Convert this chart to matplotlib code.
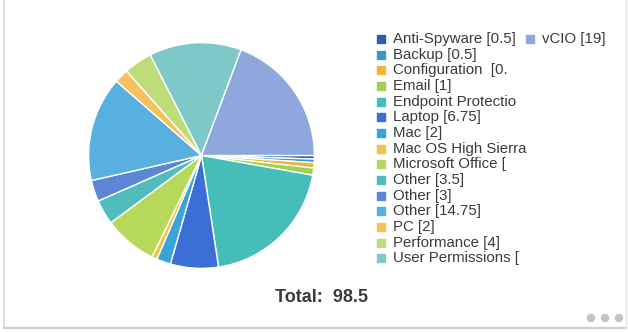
import matplotlib

matplotlib.use("Agg")
import matplotlib.pyplot as plt
from matplotlib.lines import Line2D
from matplotlib.patches import Circle, Rectangle

plt.rcParams["font.family"] = ["Liberation Sans", "DejaVu Sans"]

W, H = 628, 332

# ticket hours per category
categories = [
    "Anti-Spyware", "Backup", "Configuration", "Email", "Endpoint Protection",
    "Laptop", "Mac", "Mac OS High Sierra", "Microsoft Office", "Other",
    "Other", "Other", "PC", "Performance", "User Permissions", "vCIO",
]
hours = [0.5, 0.5, 0.75, 1, 19.5, 6.75, 2, 0.75, 7.5, 3.5, 3, 14.75, 2, 4, 13, 19]
legend_labels = [
    "Anti-Spyware [0.5]", "Backup [0.5]", "Configuration  [0.", "Email [1]",
    "Endpoint Protectio", "Laptop [6.75]", "Mac [2]", "Mac OS High Sierra",
    "Microsoft Office [", "Other [3.5]", "Other [3]", "Other [14.75]", "PC [2]",
    "Performance [4]", "User Permissions [", "vCIO [19]",
]
colors = [
    "#2f5ea8", "#3a98c2", "#f0b63c", "#a2d04c", "#45bdb8", "#3c6fd6",
    "#3aa3d8", "#f3c24c", "#b6d95c", "#4fbdbb", "#5b86d6", "#57b0e0",
    "#f5c15a", "#bedd7a", "#7ec9c7", "#8ea7dc",
]
total = sum(hours)


def fx(x):
    return x / W


def fy(y):
    return 1 - y / H


fig = plt.figure(figsize=(W / 100, H / 100), dpi=100)
fig.patch.set_facecolor("white")

# card border
fig.add_artist(Line2D([fx(4), fx(4)], [fy(0), fy(328)], color="#d8d8d8", lw=1.2))
fig.add_artist(Line2D([fx(4), fx(626)], [fy(328), fy(328)], color="#d0d0d0", lw=1.6))
fig.add_artist(Line2D([fx(626), fx(626)], [fy(0), fy(328)], color="#e4e4e4", lw=1.0))

cx, cy, r = 201.5, 155.5, 114
ax = fig.add_axes([fx(cx - r), fy(cy + r), 2 * r / W, 2 * r / H])
ax.pie(
    hours,
    colors=colors,
    startangle=0,
    counterclock=False,
    radius=1,
    wedgeprops=dict(edgecolor="white", linewidth=1.0),
)
ax.set_xlim(-1.01, 1.01)
ax.set_ylim(-1.01, 1.01)
ax.axis("off")

# legend: first column holds the first 15 entries, vCIO goes to the top of the second
row0, step = 39, 15.67
for i, (label, color) in enumerate(zip(legend_labels, colors)):
    if i < len(legend_labels) - 1:
        sx, sy = 381, row0 + i * step
    else:
        sx, sy = 530, row0
    fig.add_artist(Rectangle((fx(sx - 4), fy(sy + 4)), 8 / W, 8 / H,
                             transform=fig.transFigure, color=color))
    fig.text(fx(sx + 12), fy(sy), label, fontsize=10.8, color="#3a3a3a",
             ha="left", va="center")

fig.text(fx(275), fy(298), f"Total:  {total:g}", fontsize=13, fontweight="bold",
         color="#3a3a3a", ha="left", va="center")

# menu dots
for dx in (591, 605, 619):
    fig.add_artist(Circle((dx, H - 318), 3.5, transform=None, color="#c4c4c4"))

fig.savefig("out.png", dpi=100, facecolor="white")
